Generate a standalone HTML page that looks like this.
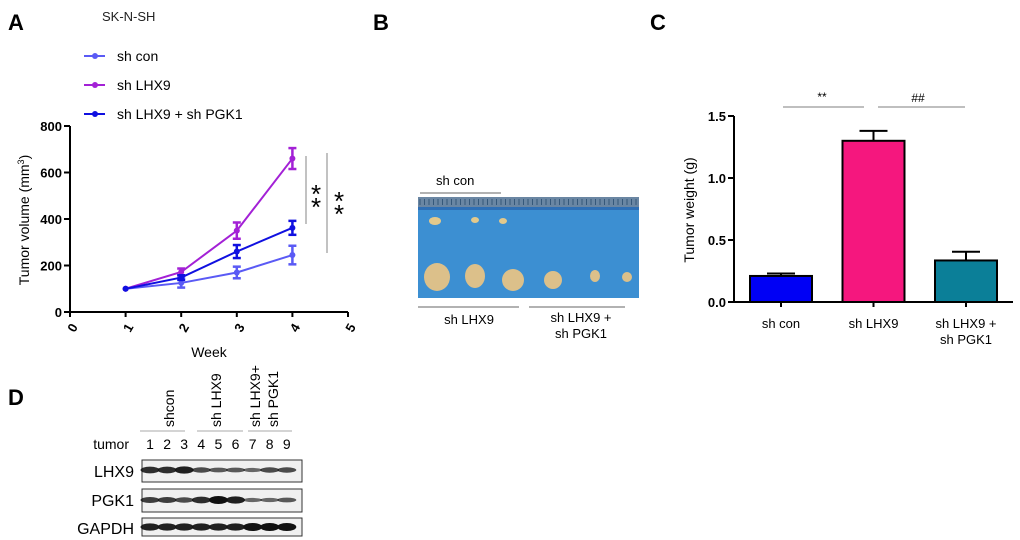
<!DOCTYPE html>
<html><head><meta charset="utf-8"><style>
html,body{margin:0;padding:0;background:#fff;}
svg{display:block;font-family:"Liberation Sans",Arial,sans-serif;}
</style></head><body>
<svg id="fig" width="1020" height="540" viewBox="0 0 1020 540">
<text x="8" y="30" font-size="22" font-weight="bold">A</text>
<text x="373" y="30" font-size="22" font-weight="bold">B</text>
<text x="650" y="30" font-size="22" font-weight="bold">C</text>
<text x="8" y="405" font-size="22" font-weight="bold">D</text>
<text x="102" y="21" font-size="13" fill="#222">SK-N-SH</text>

<g id="chartA"></g>
<g id="chartC"></g>

<g>
<text x="436" y="185" font-size="13">sh con</text>
<line x1="420" y1="193" x2="501" y2="193" stroke="#666" stroke-width="1"/>
<rect x="418" y="197" width="221" height="101" fill="#3c8fd2"/>
<rect x="418" y="197" width="221" height="10" fill="#6a86a3"/>
<g id="ruler" stroke="#2a4d70" stroke-width="0.8"></g>
<rect x="418" y="207" width="221" height="3" fill="#2f6fb5"/>
<ellipse cx="435" cy="221" rx="6" ry="4" fill="#e2c98c"/>
<ellipse cx="475" cy="220" rx="4" ry="3" fill="#e2c98c"/>
<ellipse cx="503" cy="221" rx="4" ry="3" fill="#e2c98c"/>
<ellipse cx="437" cy="277" rx="13" ry="14" fill="#dcc08a"/>
<ellipse cx="475" cy="276" rx="10" ry="12" fill="#dcc08a"/>
<ellipse cx="513" cy="280" rx="11" ry="11" fill="#dcc08a"/>
<ellipse cx="553" cy="280" rx="9" ry="9" fill="#dcc08a"/>
<ellipse cx="595" cy="276" rx="5" ry="6" fill="#dcc08a"/>
<ellipse cx="627" cy="277" rx="5" ry="5" fill="#dcc08a"/>
<line x1="418" y1="307" x2="519" y2="307" stroke="#666"/>
<line x1="529" y1="307" x2="625" y2="307" stroke="#666"/>
<text x="469" y="324" font-size="13" text-anchor="middle">sh LHX9</text>
<text x="581" y="322" font-size="13" text-anchor="middle">sh LHX9 +</text>
<text x="581" y="338" font-size="13" text-anchor="middle">sh PGK1</text>
</g>

<g>
<text transform="translate(174,427) rotate(-90)" font-size="14">shcon</text>
<text transform="translate(221,427) rotate(-90)" font-size="14">sh LHX9</text>
<text transform="translate(260,427) rotate(-90)" font-size="14">sh LHX9+</text>
<text transform="translate(278,427) rotate(-90)" font-size="14">sh PGK1</text>
<line x1="140" y1="431" x2="185" y2="431" stroke="#aaa"/>
<line x1="197" y1="431" x2="243" y2="431" stroke="#aaa"/>
<line x1="248" y1="431" x2="292" y2="431" stroke="#aaa"/>
<text x="129" y="449" font-size="14" text-anchor="end">tumor</text>
<g id="lanes" font-size="14" text-anchor="middle"></g>
<text x="134" y="477" font-size="16" text-anchor="end">LHX9</text>
<text x="134" y="506" font-size="16" text-anchor="end">PGK1</text>
<text x="134" y="534" font-size="16" text-anchor="end">GAPDH</text>
<rect x="142" y="460" width="160" height="22" fill="#f0f0f0" stroke="#333"/>
<rect x="142" y="489" width="160" height="23" fill="#f0f0f0" stroke="#333"/>
<rect x="142" y="518" width="160" height="18" fill="#f0f0f0" stroke="#333"/>
<g id="bands"></g>
</g>
</svg>
<script>
const weeks = [1, 2, 3, 4];
const shConVals = [100, 125, 170, 245];
const shConErr = [0, 20, 25, 40];
const shLhx9Vals = [100, 172, 350, 660];
const shLhx9Err = [0, 15, 35, 45];
const comboVals = [100, 148, 260, 362];
const comboErr = [0, 10, 28, 30];
const xTicksA = [0, 1, 2, 3, 4, 5];
const yTicksA = [0, 200, 400, 600, 800];
const groupsC = ["sh con", "sh LHX9", "sh LHX9 +|sh PGK1"];
const weightVals = [0.21, 1.30, 0.335];
const weightErr = [0.02, 0.08, 0.07];
const yTicksC = ["0.0", "0.5", "1.0", "1.5"];
const laneNums = [1, 2, 3, 4, 5, 6, 7, 8, 9];
const lhx9Int = [0.8, 0.8, 0.9, 0.6, 0.5, 0.5, 0.4, 0.6, 0.6];
const pgk1Int = [0.7, 0.7, 0.6, 0.8, 1.0, 0.9, 0.4, 0.4, 0.5];
const gapdhInt = [0.9, 0.9, 0.9, 0.9, 0.9, 0.9, 1.0, 1.0, 1.0];

const NS = "http://www.w3.org/2000/svg";
function mk(tag, attrs, parent) {
  const e = document.createElementNS(NS, tag);
  for (const k in attrs) e.setAttribute(k, attrs[k]);
  parent.appendChild(e);
  return e;
}
const ruler = document.getElementById("ruler");
for (let x = 420; x < 639; x += 4.5) mk("line", {x1: x, y1: 199, x2: x, y2: 205}, ruler);

const A = document.getElementById("chartA");
const ax = v => 70 + v * 55.6;
const ay = v => 312 - v * 0.2325;
let l = mk("line", {x1: 70, y1: ay(0), x2: ax(5), y2: ay(0), stroke: "#000", "stroke-width": 2}, A);


l = mk("line", {x1: 70, y1: ay(800), x2: 70, y2: ay(0), stroke: "#000", "stroke-width": 2}, A);


xTicksA.forEach(t => {
  mk("line", {x1: ax(t), y1: ay(0), x2: ax(t), y2: ay(0) + 5, stroke: "#000", "stroke-width": 2}, A);
  const tx = mk("text", {x: ax(t) + 3, y: ay(0) + 20, "font-size": 13, "font-weight": "bold", "text-anchor": "middle", transform: `rotate(-60 ${ax(t) + 3} ${ay(0) + 16})`}, A);
  tx.textContent = t;
  
  
});
yTicksA.forEach(t => {
  mk("line", {x1: 64, y1: ay(t), x2: 70, y2: ay(t), stroke: "#000", "stroke-width": 2}, A);
  const tx = mk("text", {x: 62, y: ay(t) + 5, "font-size": 13, "font-weight": "bold", "text-anchor": "end"}, A);
  tx.textContent = t;
  
  
});
let t = mk("text", {x: 209, y: 357, "font-size": 14, "text-anchor": "middle"}, A);
t.textContent = "Week";


t = mk("text", {x: 0, y: 0, "font-size": 14, "text-anchor": "middle", transform: "translate(29,220) rotate(-90)"}, A);
t.innerHTML = 'Tumor volume (mm<tspan font-size="9" dy="-5">3</tspan><tspan dy="5">)</tspan>';



const seriesA = [
  {name: "sh con", vals: shConVals, err: shConErr, color: "#5a5af5", key: "sh-con"},
  {name: "sh LHX9", vals: shLhx9Vals, err: shLhx9Err, color: "#a321d6", key: "sh-lhx9"},
  {name: "sh LHX9 + sh PGK1", vals: comboVals, err: comboErr, color: "#1010e0", key: "combo"}
];
seriesA.forEach((s, i) => {
  const g = mk("g", {}, A);
  
  
  const pts = weeks.map((w, j) => ax(w) + "," + ay(s.vals[j])).join(" ");
  mk("polyline", {points: pts, fill: "none", stroke: s.color, "stroke-width": 2}, g);
  weeks.forEach((w, j) => {
    const x = ax(w), e = s.err[j];
    if (e > 0) {
      mk("line", {x1: x, y1: ay(s.vals[j] - e), x2: x, y2: ay(s.vals[j] + e), stroke: s.color, "stroke-width": 2.5}, g);
      mk("line", {x1: x - 4, y1: ay(s.vals[j] - e), x2: x + 4, y2: ay(s.vals[j] - e), stroke: s.color, "stroke-width": 2.5}, g);
      mk("line", {x1: x - 4, y1: ay(s.vals[j] + e), x2: x + 4, y2: ay(s.vals[j] + e), stroke: s.color, "stroke-width": 2.5}, g);
    }
    const c = mk("circle", {cx: x, cy: ay(s.vals[j]), r: 3, fill: s.color}, g);
    
    
  });
  const ly = 56 + i * 29;
  const lg = mk("g", {}, A);
  
  
  mk("line", {x1: 84, y1: ly, x2: 105, y2: ly, stroke: s.color, "stroke-width": 2}, lg);
  mk("circle", {cx: 95, cy: ly, r: 3, fill: s.color}, lg);
  const lt = mk("text", {x: 117, y: ly + 5, "font-size": 14}, lg);
  lt.textContent = s.name;
});
mk("line", {x1: 306, y1: 156, x2: 306, y2: 224, stroke: "#999", "stroke-width": 1.2}, A);
mk("line", {x1: 327, y1: 153, x2: 327, y2: 253, stroke: "#999", "stroke-width": 1.2}, A);
t = mk("text", {x: 316, y: 203, "font-size": 26, "text-anchor": "middle"}, A);
t.textContent = "*";


mk("text", {x: 316, y: 216, "font-size": 26, "text-anchor": "middle"}, A).textContent = "*";
mk("text", {x: 339, y: 210, "font-size": 26, "text-anchor": "middle"}, A).textContent = "*";
mk("text", {x: 339, y: 223, "font-size": 26, "text-anchor": "middle"}, A).textContent = "*";

const C = document.getElementById("chartC");
const cy = v => 302 - v * 124;
const cx = i => 781 + i * 92.5;
const colorsC = ["#0000f5", "#f5177e", "#0b7f98"];
l = mk("line", {x1: 734, y1: cy(1.5), x2: 734, y2: cy(0), stroke: "#000", "stroke-width": 2}, C);


l = mk("line", {x1: 734, y1: cy(0), x2: 1013, y2: cy(0), stroke: "#000", "stroke-width": 2}, C);


yTicksC.forEach(v => {
  mk("line", {x1: 728, y1: cy(+v), x2: 734, y2: cy(+v), stroke: "#000", "stroke-width": 2}, C);
  const tx = mk("text", {x: 726, y: cy(+v) + 5, "font-size": 13, "font-weight": "bold", "text-anchor": "end"}, C);
  tx.textContent = v;
  
  
});
t = mk("text", {x: 0, y: 0, "font-size": 14, "text-anchor": "middle", transform: "translate(694,210) rotate(-90)"}, C);
t.textContent = "Tumor weight (g)";


groupsC.forEach((g, i) => {
  const x = cx(i), v = weightVals[i], e = weightErr[i];
  mk("line", {x1: x, y1: cy(v), x2: x, y2: cy(v + e), stroke: "#000", "stroke-width": 2}, C);
  mk("line", {x1: x - 14, y1: cy(v + e), x2: x + 14, y2: cy(v + e), stroke: "#000", "stroke-width": 2}, C);
  const b = mk("rect", {x: x - 31, y: cy(v), width: 62, height: cy(0) - cy(v), fill: colorsC[i], stroke: "#000", "stroke-width": 2}, C);
  
  
  mk("line", {x1: x, y1: cy(0), x2: x, y2: cy(0) + 5, stroke: "#000", "stroke-width": 2}, C);
  g.split("|").forEach((p, k) => {
    const tx = mk("text", {x: x, y: 328 + k * 16, "font-size": 13, "text-anchor": "middle"}, C);
    tx.textContent = p;
    
    
  });
});
mk("line", {x1: 783, y1: 107, x2: 864, y2: 107, stroke: "#aaa", "stroke-width": 1.5}, C);
mk("line", {x1: 878, y1: 107, x2: 965, y2: 107, stroke: "#aaa", "stroke-width": 1.5}, C);
t = mk("text", {x: 822, y: 101, "font-size": 12, "text-anchor": "middle"}, C);
t.textContent = "**";


t = mk("text", {x: 918, y: 102, "font-size": 12, "text-anchor": "middle"}, C);
t.textContent = "##";



const lanesG = document.getElementById("lanes");
const bandsG = document.getElementById("bands");
const lx = i => 150 + i * 17.1;
laneNums.forEach((n, i) => {
  const tx = mk("text", {x: lx(i), y: 449}, lanesG);
  tx.textContent = n;
  
  
  [[lhx9Int, 470], [pgk1Int, 500], [gapdhInt, 527]].forEach(([arr, y]) => {
    const v = arr[i];
    const bd = mk("ellipse", {cx: lx(i), cy: y, rx: 9.5, ry: 0.8 + v * 3.2, fill: "#111", opacity: 0.35 + v * 0.65}, bandsG);
    
    
  });
});
</script>
</body></html>
